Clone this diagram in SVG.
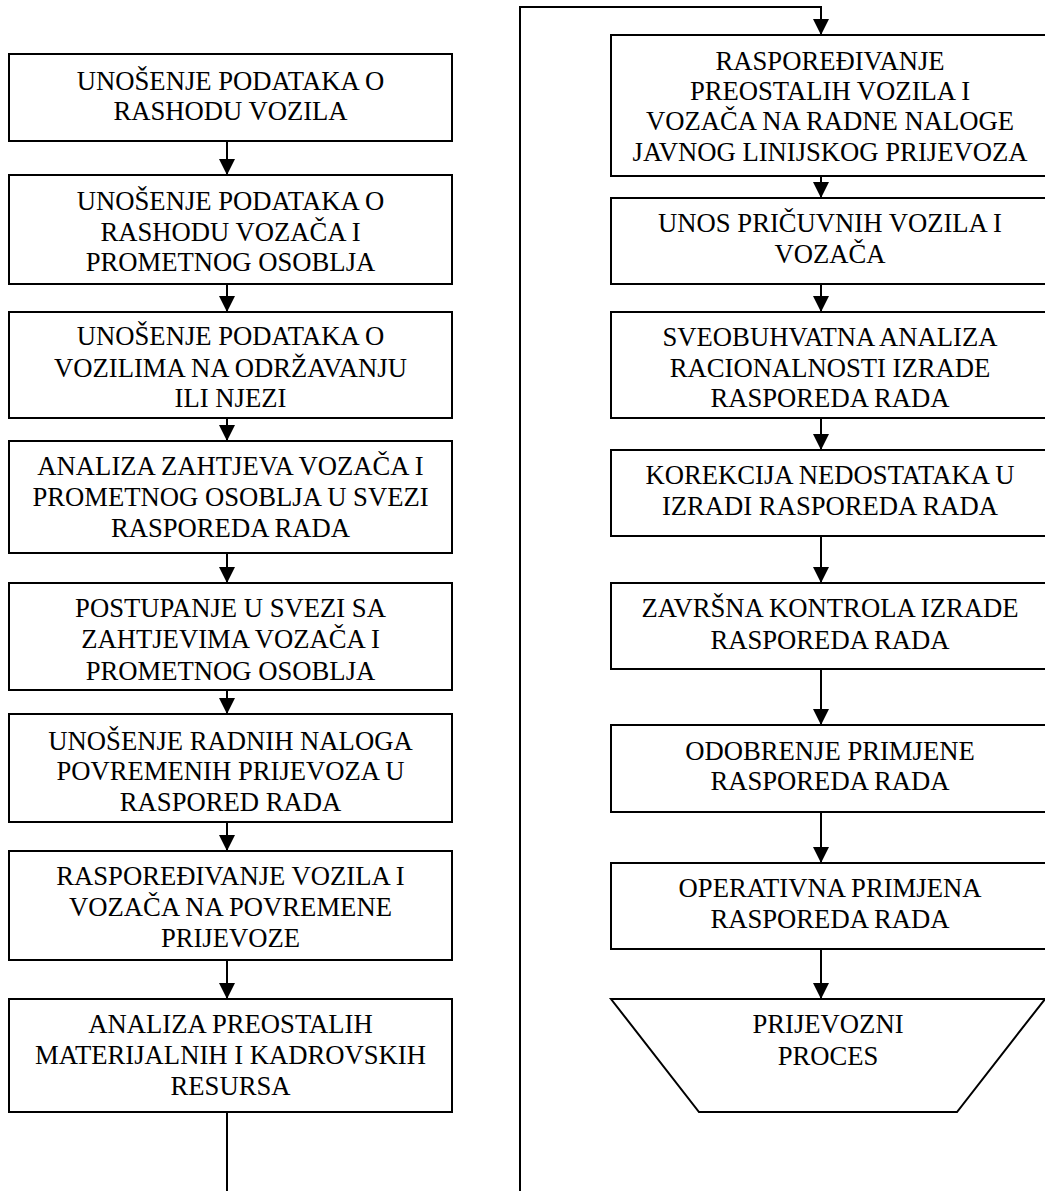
<svg xmlns="http://www.w3.org/2000/svg" width="1045" height="1191" viewBox="0 0 1045 1191">
<style>
.box{fill:#fff;stroke:#000;stroke-width:2}
.t{font-family:"Liberation Serif","Times New Roman",serif;font-size:26.67px;fill:#000;text-anchor:middle}
.c{fill:none;stroke:#000;stroke-width:2}
</style>
<defs>
<marker id="ah" markerUnits="userSpaceOnUse" markerWidth="16" markerHeight="16" refX="15" refY="7.5" orient="auto" viewBox="0 0 15 15">
<path d="M0,0 L15,7.5 L0,15 z" fill="#000"/>
</marker>
</defs>
<rect width="1045" height="1191" fill="#fff"/>
<g id="connectors">
<path class="c" d="M227,141 V175" marker-end="url(#ah)"/>
<path class="c" d="M227,284 V312" marker-end="url(#ah)"/>
<path class="c" d="M227,418 V441" marker-end="url(#ah)"/>
<path class="c" d="M227,553 V583" marker-end="url(#ah)"/>
<path class="c" d="M227,690 V714" marker-end="url(#ah)"/>
<path class="c" d="M227,822 V851" marker-end="url(#ah)"/>
<path class="c" d="M227,960 V999" marker-end="url(#ah)"/>
<path class="c" d="M227,1112 V1191"/>
<path class="c" d="M520,1191 V7 H821 V35" marker-end="url(#ah)"/>
<path class="c" d="M821,176 V198" marker-end="url(#ah)"/>
<path class="c" d="M821,284 V312" marker-end="url(#ah)"/>
<path class="c" d="M821,418 V450" marker-end="url(#ah)"/>
<path class="c" d="M821,536 V583" marker-end="url(#ah)"/>
<path class="c" d="M821,669 V725" marker-end="url(#ah)"/>
<path class="c" d="M821,812 V863" marker-end="url(#ah)"/>
<path class="c" d="M821,949 V999" marker-end="url(#ah)"/>
</g>
<g id="n1"><rect class="box" x="9" y="54" width="443" height="87"/>
<text class="t" x="230.5" y="90">UNOŠENJE PODATAKA O</text><text class="t" x="230.5" y="120">RASHODU VOZILA</text></g>
<g id="n2"><rect class="box" x="9" y="175" width="443" height="109"/>
<text class="t" x="230.5" y="210">UNOŠENJE PODATAKA O</text><text class="t" x="230.5" y="241">RASHODU VOZAČA I</text><text class="t" x="230.5" y="271">PROMETNOG OSOBLJA</text></g>
<g id="n3"><rect class="box" x="9" y="312" width="443" height="106"/>
<text class="t" x="230.5" y="345">UNOŠENJE PODATAKA O</text><text class="t" x="230.5" y="377">VOZILIMA NA ODRŽAVANJU</text><text class="t" x="230.5" y="407">ILI NJEZI</text></g>
<g id="n4"><rect class="box" x="9" y="441" width="443" height="112"/>
<text class="t" x="230.5" y="475">ANALIZA ZAHTJEVA VOZAČA I</text><text class="t" x="230.5" y="506">PROMETNOG OSOBLJA U SVEZI</text><text class="t" x="230.5" y="537">RASPOREDA RADA</text></g>
<g id="n5"><rect class="box" x="9" y="583" width="443" height="107"/>
<text class="t" x="230.5" y="617">POSTUPANJE U SVEZI SA</text><text class="t" x="230.5" y="648">ZAHTJEVIMA VOZAČA I</text><text class="t" x="230.5" y="680">PROMETNOG OSOBLJA</text></g>
<g id="n6"><rect class="box" x="9" y="714" width="443" height="108"/>
<text class="t" x="230.5" y="750">UNOŠENJE RADNIH NALOGA</text><text class="t" x="230.5" y="780">POVREMENIH PRIJEVOZA U</text><text class="t" x="230.5" y="811">RASPORED RADA</text></g>
<g id="n7"><rect class="box" x="9" y="851" width="443" height="109"/>
<text class="t" x="230.5" y="885">RASPOREĐIVANJE VOZILA I</text><text class="t" x="230.5" y="916">VOZAČA NA POVREMENE</text><text class="t" x="230.5" y="947">PRIJEVOZE</text></g>
<g id="n8"><rect class="box" x="9" y="999" width="443" height="113"/>
<text class="t" x="230.5" y="1033">ANALIZA PREOSTALIH</text><text class="t" x="230.5" y="1064">MATERIJALNIH I KADROVSKIH</text><text class="t" x="230.5" y="1095">RESURSA</text></g>
<g id="n9"><rect class="box" x="611" y="35" width="440" height="141"/>
<text class="t" x="830" y="70">RASPOREĐIVANJE</text><text class="t" x="830" y="100">PREOSTALIH VOZILA I</text><text class="t" x="830" y="130">VOZAČA NA RADNE NALOGE</text><text class="t" x="830" y="161">JAVNOG LINIJSKOG PRIJEVOZA</text></g>
<g id="n10"><rect class="box" x="611" y="198" width="440" height="86"/>
<text class="t" x="830" y="232">UNOS PRIČUVNIH VOZILA I</text><text class="t" x="830" y="263">VOZAČA</text></g>
<g id="n11"><rect class="box" x="611" y="312" width="440" height="106"/>
<text class="t" x="830" y="346">SVEOBUHVATNA ANALIZA</text><text class="t" x="830" y="377">RACIONALNOSTI IZRADE</text><text class="t" x="830" y="407">RASPOREDA RADA</text></g>
<g id="n12"><rect class="box" x="611" y="450" width="440" height="86"/>
<text class="t" x="830" y="484">KOREKCIJA NEDOSTATAKA U</text><text class="t" x="830" y="515">IZRADI RASPOREDA RADA</text></g>
<g id="n13"><rect class="box" x="611" y="583" width="440" height="86"/>
<text class="t" x="830" y="617">ZAVRŠNA KONTROLA IZRADE</text><text class="t" x="830" y="649">RASPOREDA RADA</text></g>
<g id="n14"><rect class="box" x="611" y="725" width="440" height="87"/>
<text class="t" x="830" y="760">ODOBRENJE PRIMJENE</text><text class="t" x="830" y="790">RASPOREDA RADA</text></g>
<g id="n15"><rect class="box" x="611" y="863" width="440" height="86"/>
<text class="t" x="830" y="897">OPERATIVNA PRIMJENA</text><text class="t" x="830" y="928">RASPOREDA RADA</text></g>
<g id="n16"><path class="box" d="M611,999 H1045 L957,1112 H699 Z"/>
<text class="t" x="828" y="1033">PRIJEVOZNI</text><text class="t" x="828" y="1065">PROCES</text></g>
</svg>
